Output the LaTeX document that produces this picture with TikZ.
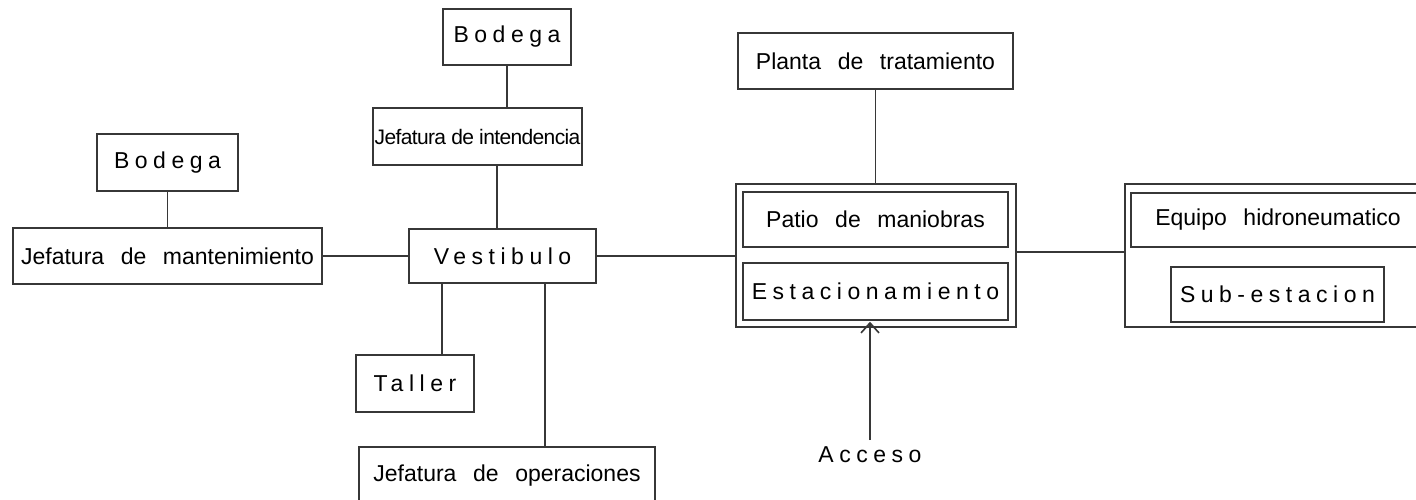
\documentclass[tikz,border=0pt]{standalone}
\usepackage{fontspec}
\setmainfont[WordSpace=2.6]{Liberation Sans}
\newfontfamily\anchofont[LetterSpace=24]{Liberation Sans}
\newfontfamily\justofont[LetterSpace=-3]{Liberation Sans}
\usetikzlibrary{arrows.meta}
\usetikzlibrary{calc}

\definecolor{trazo}{RGB}{55,55,55}

\begin{document}
\begin{tikzpicture}[x=1pt,y=-1pt,inner sep=0pt,line width=1.5pt,
  >={Straight Barb[length=10pt,width=18pt,line width=1.6pt]},
  font=\fontsize{23}{27}\selectfont,
  caja/.style args={#1x#2}{draw=trazo,rectangle,minimum width=#1pt,minimum height=#2pt}]
\useasboundingbox (0,0) rectangle (1416,500);
\clip (0,0) rectangle (1416,500);
\node [caja=141x57] (BodegaM) at (167.5,162.5) {\anchofont Bodega};
\node [caja=309x56] (JefMant) at (167.5,256)   {Jefatura de mantenimiento};
\node [caja=128x56] (BodegaI) at (507,37)      {\anchofont Bodega};
\node [caja=209x57] (JefInt)  at (477.5,136.5) {\justofont\fontsize{21}{25}\selectfont Jefatura de intendencia};
\node [caja=187x54] (Vest)    at (502.5,256)   {\anchofont Vestibulo};
\node [caja=118x57] (Taller)  at (415,383.5)   {\anchofont Taller};
\node [caja=296x58] (JefOp)   at (507,476)     {Jefatura de operaciones};
\node [caja=275x56] (Planta)  at (875.5,61)    {Planta de tratamiento};
\node [caja=280x143] (Patio)  at (876,255.5)   {};
\node [caja=265x55] (Maniob)  at (875.5,219.5) {Patio de maniobras};
\node [caja=265x57] (Estac)   at (875.5,291.5) {\anchofont Estacionamiento};
\node [caja=315x143] (Equipos) at (1282.5,255.5) {};
\node [caja=294x54] (Hidro)   at (1278,220)    {Equipo hidroneumatico};
\node [caja=213x55] (SubEst)  at (1277.5,294.5) {\anchofont Sub-estacion};
\node (Acceso) at (870,455) {\anchofont Acceso};
% conexiones
\coordinate (vn) at ([xshift=-5.5pt]Vest.north);
\coordinate (vt) at ([xshift=-60.5pt]Vest.south);
\coordinate (vo) at ([xshift=42.5pt]Vest.south);
\coordinate (pe) at ([yshift=3.5pt]Patio.east);
\draw [trazo] (BodegaM) -- (JefMant);
\draw [trazo] (JefMant) -- (Vest);
\draw [trazo] (BodegaI) -- (BodegaI |- JefInt.north);
\draw [trazo] (vn) -- (vn |- JefInt.south);
\draw [trazo] (vt) -- (vt |- Taller.north);
\draw [trazo] (vo) -- (vo |- JefOp.north);
\draw [trazo] (Vest.east) -- (Vest.east -| Patio.west);
\draw [trazo] (Planta) -- (Planta |- Patio.north);
\draw [trazo] (pe) -- (pe -| Equipos.west);
\draw [trazo,->] ([yshift=6pt]Acceso.north) -- ([yshift=6pt]Acceso.north |- Patio.south);
\end{tikzpicture}
\end{document}
